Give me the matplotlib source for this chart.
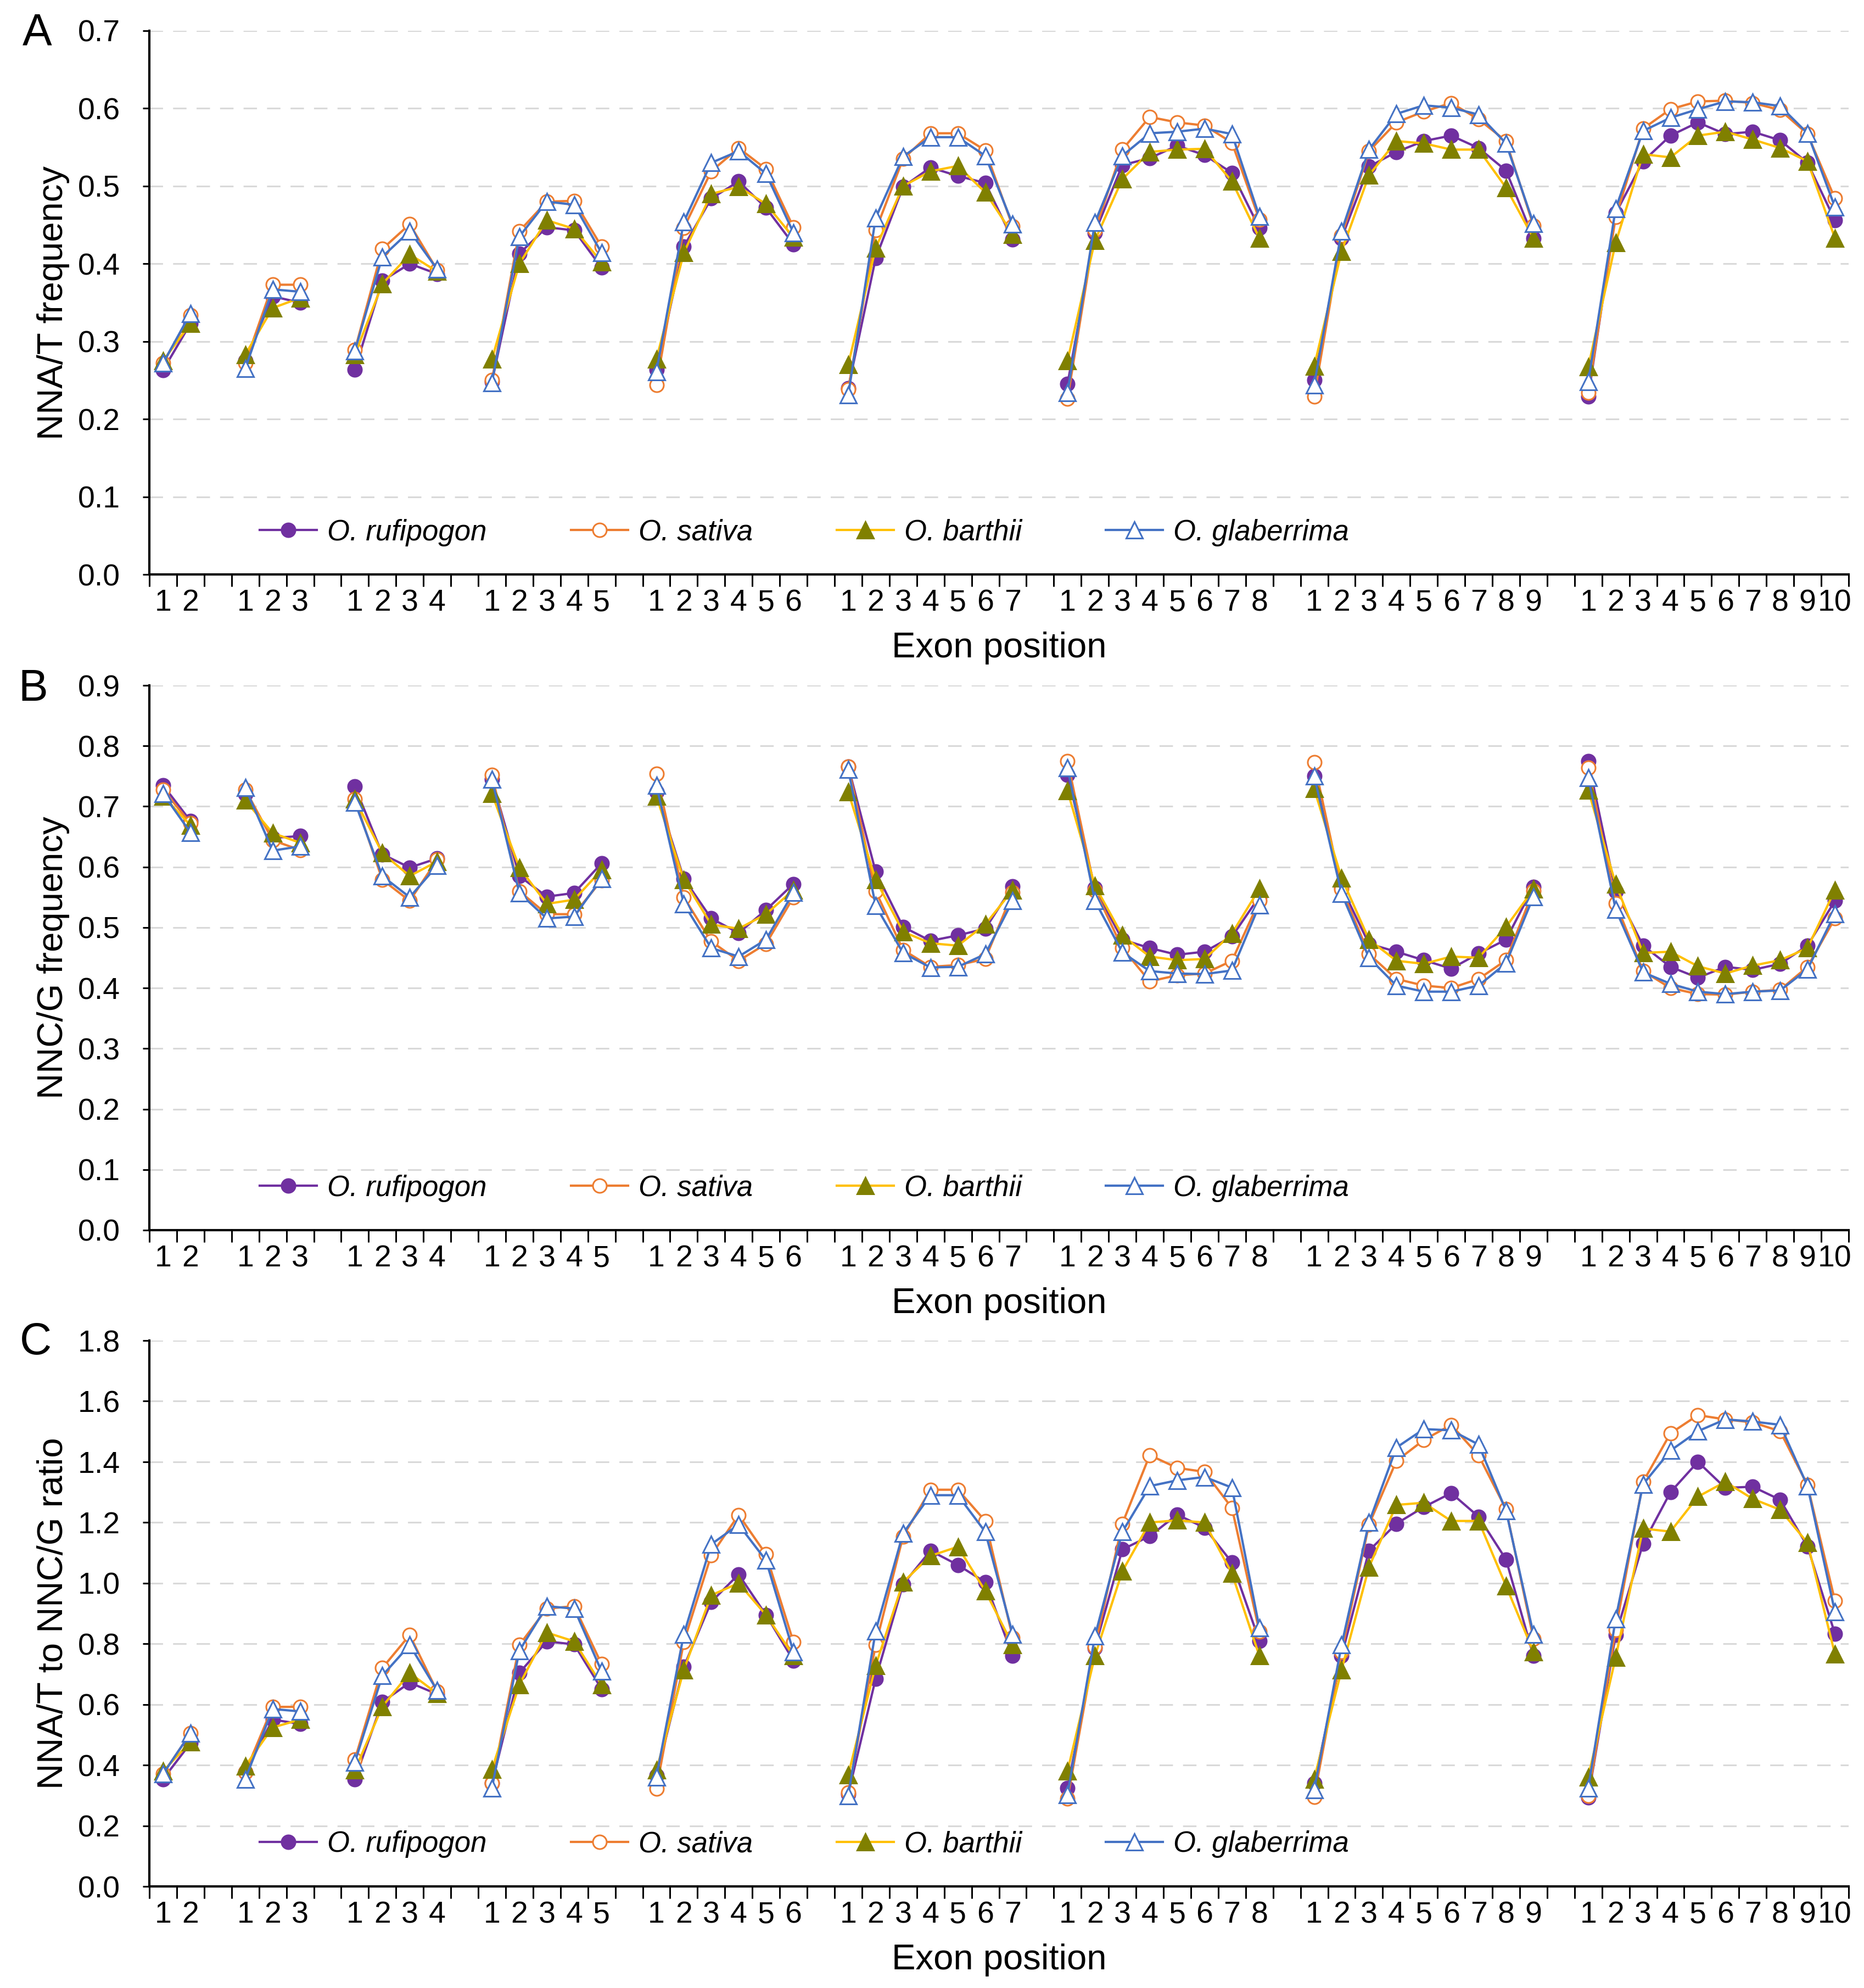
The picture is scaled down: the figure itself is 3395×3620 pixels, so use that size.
import matplotlib
matplotlib.use('Agg')
import matplotlib.pyplot as plt
import numpy as np
from matplotlib import font_manager
from matplotlib.lines import Line2D

# exon groups: genes with 2..10 exons
group_sizes = [2, 3, 4, 5, 6, 7, 8, 9, 10]
species = ['O. rufipogon', 'O. sativa', 'O. barthii', 'O. glaberrima']

# A: NNA/T frequency
nnat_rufipogon = [[0.263, 0.323], [0.275, 0.358, 0.350], [0.264, 0.378, 0.400, 0.387],
                  [0.248, 0.413, 0.447, 0.443, 0.395], [0.264, 0.422, 0.484, 0.506, 0.472, 0.425],
                  [0.240, 0.407, 0.499, 0.524, 0.513, 0.504, 0.431],
                  [0.245, 0.440, 0.527, 0.536, 0.552, 0.540, 0.517, 0.446],
                  [0.250, 0.433, 0.525, 0.544, 0.558, 0.565, 0.549, 0.520, 0.433],
                  [0.229, 0.465, 0.532, 0.565, 0.582, 0.567, 0.570, 0.559, 0.530, 0.456]]
nnat_sativa = [[0.272, 0.334], [0.272, 0.373, 0.373], [0.289, 0.419, 0.451, 0.392],
               [0.250, 0.442, 0.480, 0.481, 0.422], [0.244, 0.446, 0.519, 0.549, 0.522, 0.447],
               [0.238, 0.443, 0.535, 0.568, 0.568, 0.546, 0.448],
               [0.226, 0.443, 0.547, 0.589, 0.582, 0.578, 0.556, 0.457],
               [0.229, 0.436, 0.545, 0.582, 0.596, 0.607, 0.586, 0.558, 0.449],
               [0.234, 0.460, 0.574, 0.599, 0.609, 0.610, 0.607, 0.598, 0.567, 0.484]]
nnat_barthii = [[0.275, 0.323], [0.283, 0.343, 0.356], [0.283, 0.374, 0.412, 0.390],
                [0.277, 0.400, 0.456, 0.445, 0.402], [0.277, 0.414, 0.490, 0.499, 0.477, 0.434],
                [0.270, 0.420, 0.500, 0.519, 0.526, 0.492, 0.438],
                [0.275, 0.430, 0.509, 0.544, 0.547, 0.548, 0.506, 0.433],
                [0.268, 0.416, 0.514, 0.558, 0.555, 0.547, 0.547, 0.498, 0.433],
                [0.267, 0.427, 0.541, 0.537, 0.565, 0.570, 0.560, 0.549, 0.532, 0.433]]
nnat_glaberrima = [[0.272, 0.336], [0.265, 0.367, 0.364], [0.288, 0.409, 0.442, 0.393],
                   [0.247, 0.435, 0.480, 0.476, 0.414], [0.261, 0.454, 0.530, 0.545, 0.516, 0.440],
                   [0.231, 0.459, 0.538, 0.563, 0.563, 0.539, 0.451],
                   [0.234, 0.453, 0.539, 0.568, 0.570, 0.574, 0.567, 0.461],
                   [0.244, 0.442, 0.547, 0.593, 0.604, 0.601, 0.592, 0.555, 0.452],
                   [0.248, 0.471, 0.571, 0.588, 0.599, 0.609, 0.608, 0.603, 0.568, 0.473]]

# B: NNC/G frequency
nncg_rufipogon = [[0.735, 0.676], [0.720, 0.648, 0.651], [0.733, 0.621, 0.599, 0.614],
                  [0.745, 0.585, 0.551, 0.557, 0.606], [0.724, 0.581, 0.515, 0.491, 0.529, 0.572],
                  [0.766, 0.592, 0.501, 0.478, 0.487, 0.498, 0.568],
                  [0.752, 0.565, 0.480, 0.466, 0.455, 0.460, 0.485, 0.551],
                  [0.750, 0.567, 0.473, 0.460, 0.446, 0.432, 0.457, 0.480, 0.567],
                  [0.775, 0.560, 0.470, 0.435, 0.417, 0.435, 0.430, 0.440, 0.470, 0.544]]
nncg_sativa = [[0.728, 0.672], [0.728, 0.644, 0.628], [0.712, 0.579, 0.544, 0.612],
               [0.752, 0.560, 0.522, 0.522, 0.578], [0.754, 0.550, 0.477, 0.445, 0.473, 0.550],
               [0.766, 0.560, 0.463, 0.435, 0.438, 0.448, 0.558],
               [0.775, 0.562, 0.466, 0.411, 0.421, 0.424, 0.445, 0.544],
               [0.773, 0.563, 0.456, 0.415, 0.404, 0.400, 0.415, 0.446, 0.561],
               [0.764, 0.540, 0.428, 0.400, 0.390, 0.389, 0.394, 0.397, 0.435, 0.515]]
nncg_barthii = [[0.717, 0.669], [0.710, 0.656, 0.640], [0.712, 0.623, 0.585, 0.609],
                [0.721, 0.599, 0.539, 0.546, 0.595], [0.717, 0.579, 0.505, 0.498, 0.522, 0.562],
                [0.724, 0.579, 0.493, 0.474, 0.470, 0.505, 0.562],
                [0.726, 0.569, 0.487, 0.452, 0.446, 0.448, 0.490, 0.564],
                [0.729, 0.582, 0.480, 0.445, 0.440, 0.452, 0.450, 0.501, 0.563],
                [0.727, 0.572, 0.458, 0.460, 0.436, 0.424, 0.437, 0.446, 0.466, 0.562]]
nncg_glaberrima = [[0.721, 0.657], [0.731, 0.627, 0.634], [0.707, 0.585, 0.550, 0.602],
                   [0.745, 0.557, 0.515, 0.518, 0.581], [0.735, 0.539, 0.466, 0.452, 0.480, 0.558],
                   [0.761, 0.536, 0.458, 0.434, 0.435, 0.456, 0.544],
                   [0.764, 0.544, 0.459, 0.428, 0.424, 0.423, 0.429, 0.537],
                   [0.750, 0.556, 0.450, 0.404, 0.394, 0.394, 0.404, 0.441, 0.551],
                   [0.748, 0.530, 0.426, 0.407, 0.394, 0.390, 0.394, 0.396, 0.431, 0.523]]

# C: NNA/T to NNC/G ratio
ratio_rufipogon = [[0.354, 0.472], [0.376, 0.550, 0.536], [0.354, 0.608, 0.672, 0.634],
                   [0.340, 0.704, 0.808, 0.798, 0.651], [0.365, 0.724, 0.938, 1.029, 0.895, 0.745],
                   [0.305, 0.685, 0.996, 1.107, 1.060, 1.003, 0.760],
                   [0.325, 0.786, 1.111, 1.155, 1.226, 1.183, 1.068, 0.810],
                   [0.340, 0.760, 1.107, 1.196, 1.251, 1.297, 1.219, 1.078, 0.760],
                   [0.294, 0.830, 1.130, 1.300, 1.400, 1.314, 1.318, 1.275, 1.121, 0.833]]
ratio_sativa = [[0.371, 0.505], [0.376, 0.592, 0.592], [0.419, 0.720, 0.829, 0.643],
                [0.340, 0.796, 0.916, 0.924, 0.733], [0.322, 0.806, 1.092, 1.225, 1.095, 0.806],
                [0.310, 0.796, 1.154, 1.308, 1.308, 1.205, 0.820],
                [0.289, 0.790, 1.196, 1.422, 1.380, 1.367, 1.248, 0.840],
                [0.296, 0.774, 1.193, 1.403, 1.472, 1.522, 1.421, 1.244, 0.817],
                [0.299, 0.846, 1.334, 1.494, 1.554, 1.540, 1.530, 1.501, 1.323, 0.942]]
ratio_barthii = [[0.380, 0.476], [0.397, 0.524, 0.550], [0.383, 0.593, 0.704, 0.636],
                 [0.386, 0.665, 0.837, 0.808, 0.665], [0.383, 0.714, 0.960, 1.000, 0.895, 0.760],
                 [0.368, 0.728, 1.003, 1.090, 1.120, 0.974, 0.796],
                 [0.380, 0.760, 1.039, 1.200, 1.207, 1.200, 1.032, 0.760],
                 [0.354, 0.714, 1.053, 1.258, 1.265, 1.205, 1.205, 0.991, 0.774],
                 [0.361, 0.755, 1.180, 1.170, 1.285, 1.334, 1.278, 1.242, 1.133, 0.766]]
ratio_glaberrima = [[0.371, 0.505], [0.354, 0.585, 0.577], [0.410, 0.695, 0.796, 0.646],
                    [0.325, 0.777, 0.924, 0.916, 0.709], [0.361, 0.831, 1.128, 1.193, 1.075, 0.774],
                    [0.299, 0.842, 1.164, 1.290, 1.290, 1.169, 0.832],
                    [0.303, 0.825, 1.169, 1.320, 1.339, 1.350, 1.315, 0.853],
                    [0.318, 0.796, 1.200, 1.447, 1.508, 1.504, 1.457, 1.239, 0.832],
                    [0.325, 0.882, 1.326, 1.437, 1.501, 1.540, 1.533, 1.522, 1.320, 0.905]]

names = {f.name for f in font_manager.fontManager.ttflist}
narrow = 'Liberation Sans Narrow' if 'Liberation Sans Narrow' in names else 'Liberation Sans'
plt.rcParams['font.family'] = ['Liberation Sans', 'DejaVu Sans']

styles = [
    dict(color='#7030A0', marker='o', mfc='#7030A0', mec='#7030A0', ms=18),
    dict(color='#ED7D31', marker='o', mfc='white', mec='#ED7D31', ms=18),
    dict(color='#FFC000', marker='^', mfc='#808000', mec='#808000', ms=21),
    dict(color='#4472C4', marker='^', mfc='white', mec='#4472C4', ms=21),
]

# category positions, one empty slot between groups
x_groups = []
tick_labels = []
pos = 0
for n in group_sizes:
    x_groups.append(list(range(pos, pos + n)))
    tick_labels += [str(i) for i in range(1, n + 1)]
    pos += n + 1
n_cat = pos - 1
centers = [x for g in x_groups for x in g]

fig = plt.figure(figsize=(33.95, 36.2), dpi=100)
W, H = 3395, 3620


def draw_panel(rect, series, ymax, ystep, ylabel, letter, letter_xy):
    ax = fig.add_axes(rect)
    for data, st in zip(series, styles):
        for xs, ys in zip(x_groups, data):
            ax.plot(xs, ys, lw=3, mew=2.2, zorder=3, **st)
    ax.set_xlim(-0.5, n_cat - 0.5)
    ax.set_ylim(0, ymax)
    ax.set_yticks(np.arange(0, ymax + ystep / 2, ystep))
    ax.yaxis.set_major_formatter(plt.FormatStrFormatter('%.1f'))
    ax.yaxis.grid(True, color='#D9D9D9', lw=2.2, linestyle=(0, (8, 6)))
    ax.set_axisbelow(True)
    for s in ['top', 'right']:
        ax.spines[s].set_visible(False)
    for s in ['left', 'bottom']:
        ax.spines[s].set_linewidth(3)
    ax.set_xticks(np.arange(-0.5, n_cat, 1))
    ax.set_xticklabels([])
    ax.set_xticks(centers, minor=True)
    ax.set_xticklabels(tick_labels, minor=True, fontfamily=narrow, fontsize=40)
    ax.tick_params(axis='x', which='major', direction='out', length=16, width=2.2)
    ax.tick_params(axis='x', which='minor', length=0, pad=19)
    ax.tick_params(axis='y', direction='out', length=9, width=2.2, pad=29)
    for lab in ax.get_yticklabels():
        lab.set_fontfamily(narrow)
        lab.set_fontsize(40)
    ax.set_xlabel('Exon position', fontsize=47)
    ax.xaxis.set_label_coords(0.5, -0.135)
    ax.xaxis.label.set_va('center')
    ax.set_ylabel(ylabel, fontsize=47)
    ax.yaxis.set_label_coords(-0.0565, 0.5)
    ax.yaxis.label.set_va('center')

    handles = [Line2D([], [], lw=3, mew=2.2, **st) for st in styles]
    ax.legend(handles, species, loc='center left', bbox_to_anchor=(0.065, 0.077),
              ncol=4, frameon=False, borderaxespad=0, borderpad=0,
              handlelength=1.97, handletextpad=0.36, columnspacing=2.9,
              prop=dict(family='Liberation Sans', style='italic', size=38))
    fig.text(letter_xy[0] / W, 1 - letter_xy[1] / H, letter, fontsize=58,
             ha='center', va='center')
    return ax


def rect_px(top, bottom, left=272, right=3367):
    return [left / W, 1 - bottom / H, (right - left) / W, (bottom - top) / H]


draw_panel(rect_px(56, 1046), [nnat_rufipogon, nnat_sativa, nnat_barthii, nnat_glaberrima],
           0.7, 0.1, 'NNA/T frequency', 'A', (68, 60))
draw_panel(rect_px(1248, 2240), [nncg_rufipogon, nncg_sativa, nncg_barthii, nncg_glaberrima],
           0.9, 0.1, 'NNC/G frequency', 'B', (60, 1255))
draw_panel(rect_px(2441, 3435), [ratio_rufipogon, ratio_sativa, ratio_barthii, ratio_glaberrima],
           1.8, 0.2, 'NNA/T to NNC/G ratio', 'C', (65, 2445))

fig.savefig('out.png', dpi=100)
